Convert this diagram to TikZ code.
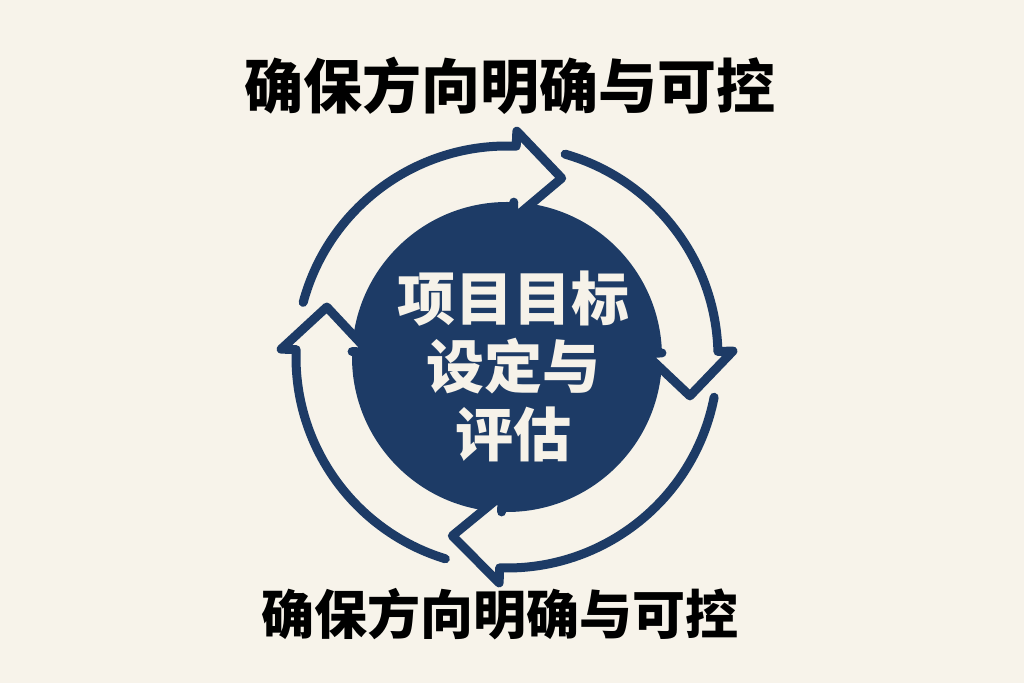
\documentclass[tikz,border=0pt]{standalone}
\usepackage{fontspec}
\newfontfamily\cjk{Noto Sans CJK SC}
\definecolor{navy}{HTML}{1D3B66}
\definecolor{bg}{HTML}{F7F3EA}
\definecolor{ink}{HTML}{F6F2E9}
\tikzset{
  ring/.style={draw=navy, line width=4.5pt, line cap=round, line join=round},
  title/.style={font=\cjk\bfseries\fontsize{29.5pt}{34pt}\selectfont, text=black, inner sep=0pt},
  hubtext/.style={font=\cjk\bfseries\fontsize{29pt}{34pt}\selectfont, text=ink, align=center, inner sep=0pt},
}
\newcommand\cyclearrow[3]{%
  \fill[bg] (#2:226) -- (#3:187) -- (#2:138) -- cycle;
  \draw[ring] (#1:211) arc[start angle=#1, end angle=#2, radius=211]
    -- (#2:226) -- (#3:187) -- (#2:138) -- (#2:155);
}
\begin{document}
\begin{tikzpicture}[x=0.5pt,y=-0.5pt]
\useasboundingbox (0,0) rectangle (1024,683);
\fill[bg] (0,0) rectangle (1024,683);
\node[title] (top) at (510,86) {确保方向明确与可控};
\node[title, font=\cjk\bfseries\fontsize{26.5pt}{30pt}\selectfont] (bottom) at (500,614) {确保方向明确与可控};
\node[circle, fill=navy, minimum size=155pt, inner sep=0pt] (hub) at (507,357) {};
\begin{scope}[shift={(507,357)}, yscale=-1]
  \cyclearrow{165}{87.5}{73}
  \cyclearrow{74}{1.5}{-12}
  \cyclearrow{-11}{-92}{-107}
  \cyclearrow{253}{178}{164.5}
\end{scope}
\node[hubtext] (label) at (513,366) {项目目标\\设定与\\评估};
\end{tikzpicture}
\end{document}
